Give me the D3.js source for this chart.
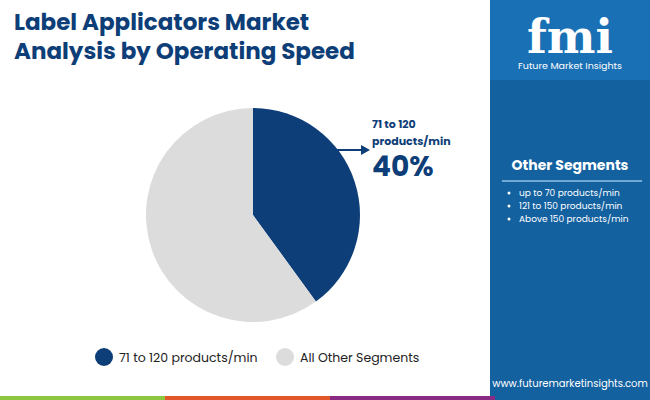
<!DOCTYPE html>
<html><head><meta charset="utf-8">
<script src="https://cdn.jsdelivr.net/npm/d3@7"></script>
<style>body{margin:0;font-family:Poppins,"Open Sans",sans-serif}svg{display:block}</style>
</head><body><svg id="c" width="650" height="400"></svg>
<script>
const segments = ['71 to 120 products/min', 'All Other Segments'];
const shares = [40, 60];
const otherSegments = ['up to 70 products/min', '121 to 150 products/min', 'Above 150 products/min'];
const colors = ['#0d3e78', '#dcdcdc'];

const svg = d3.select('#c');
svg.append('rect').attr('width', 650).attr('height', 400).attr('fill', '#fff');
// right panel
svg.append('rect').attr('x', 490).attr('width', 160).attr('height', 400).attr('fill', '#1461a0');
svg.append('rect').attr('x', 490).attr('width', 160).attr('height', 80).attr('fill', '#1a70b5');

// title
const title = svg.append('text').attr('x', 14).attr('fill', '#0d3e78')
  .attr('font-size', 23).attr('font-weight', 700);
title.append('tspan').attr('x', 14).attr('y', 30).text('Label Applicators Market');
title.append('tspan').attr('x', 14).attr('y', 59).text('Analysis by Operating Speed');

// bottom strip
const strip = ['#8dc63f', '#e2582a', '#8a2b83'];
strip.forEach((c, i) => svg.append('rect').attr('x', i * 165).attr('y', 396).attr('width', 165).attr('height', 4).attr('fill', c));

// pie
const cx = 253, cy = 215, r = 107;
const pie = d3.pie().sort(null)(shares);
const arc = d3.arc().innerRadius(0).outerRadius(r);
svg.append('g').attr('transform', `translate(${cx},${cy})`)
  .selectAll('path').data(pie).join('path')
  .attr('d', arc).attr('fill', (d, i) => colors[i]);

// callout
svg.append('line').attr('x1', 333).attr('y1', 150).attr('x2', 362).attr('y2', 150)
  .attr('stroke', '#0d3e78').attr('stroke-width', 2);
svg.append('path').attr('d', 'M370,150 L361,145 L361,155 Z').attr('fill', '#0d3e78');
const lab = svg.append('text').attr('fill', '#0d3e78').attr('font-weight', 700).attr('font-size', 11);
lab.append('tspan').attr('x', 372).attr('y', 128).text('71 to 120');
lab.append('tspan').attr('x', 372).attr('y', 145).text('products/min');
svg.append('text').attr('x', 372).attr('y', 176).attr('fill', '#0d3e78')
  .attr('font-weight', 700).attr('font-size', 28).text(shares[0] + '%');

// legend
const lx = [104, 285];
segments.forEach((s, i) => {
  svg.append('circle').attr('cx', lx[i]).attr('cy', 357).attr('r', 9).attr('fill', colors[i]);
  svg.append('text').attr('x', lx[i] + 15).attr('y', 362).attr('font-size', 12.5).attr('fill', '#222').text(s);
});

// logo
svg.append('text').attr('x', 570).attr('y', 53).attr('text-anchor', 'middle').attr('fill', '#fff')
  .attr('font-size', 46).attr('font-weight', 700).attr('font-family', 'DejaVu Serif').text('fmi');
svg.append('text').attr('x', 570).attr('y', 69).attr('text-anchor', 'middle').attr('fill', '#fff')
  .attr('font-size', 9.5).text('Future Market Insights');

// other segments
svg.append('text').attr('x', 570).attr('y', 170).attr('text-anchor', 'middle').attr('fill', '#fff')
  .attr('font-size', 14).attr('font-weight', 700).text('Other Segments');
svg.append('line').attr('x1', 502).attr('x2', 642).attr('y1', 181).attr('y2', 181)
  .attr('stroke', '#8fc0e8').attr('stroke-width', 1.5);
otherSegments.forEach((s, i) => {
  svg.append('circle').attr('cx', 509).attr('cy', 193 + i * 13).attr('r', 1.5).attr('fill', '#fff');
  svg.append('text').attr('x', 519).attr('y', 196 + i * 13).attr('font-size', 9).attr('fill', '#fff').text(s);
});
svg.append('text').attr('x', 570).attr('y', 387).attr('text-anchor', 'middle').attr('fill', '#fff')
  .attr('font-size', 10).text('www.futuremarketinsights.com');
</script></body></html>
